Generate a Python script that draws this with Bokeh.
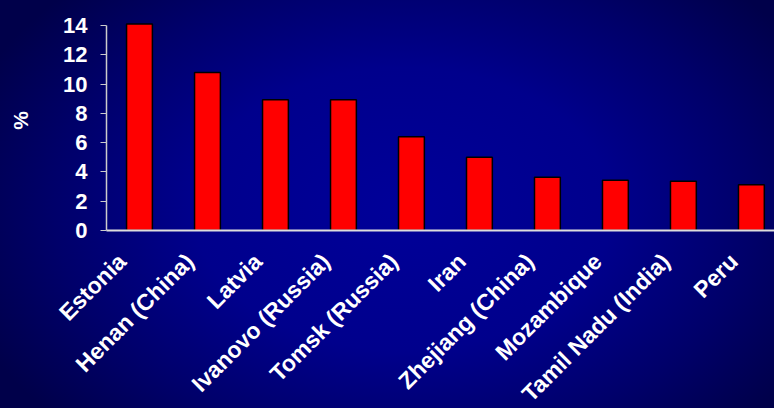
import math
from bokeh.plotting import figure
from bokeh.models import Range1d, FixedTicker, CustomJSTickFormatter, GlobalInlineStyleSheet
from bokeh.embed import file_html
from bokeh.resources import INLINE

sites = ["Estonia", "Henan (China)", "Latvia", "Ivanovo (Russia)", "Tomsk (Russia)",
         "Iran", "Zhejiang (China)", "Mozambique", "Tamil Nadu (India)", "Peru"]
values = [14.1, 10.8, 8.93, 8.93, 6.4, 5.0, 3.64, 3.44, 3.37, 3.12]
y_ticks = [0, 2, 4, 6, 8, 10, 12, 14]

xs = list(range(len(sites)))
LABEL_SHIFT = 0.26  # rotated labels end a little left of their bar

p = figure(frame_width=668, frame_height=220, output_backend="svg", toolbar_location=None,
           x_range=Range1d(-0.485, 9.34), y_range=Range1d(0, 15.03),
           min_border_left=106, min_border_right=0, min_border_top=10,
           min_border_bottom=150)
p.styles = {"background": "radial-gradient(ellipse 60% 75% at 52% 50%, #000099 0%, #00008c 45%, #00006a 75%, #00004a 100%)"}
p.stylesheets = [GlobalInlineStyleSheet(css="html, body { margin: 0; padding: 0; overflow: hidden; background: #000050; }")]
p.background_fill_alpha = 0
p.border_fill_alpha = 0
p.outline_line_color = None
p.grid.visible = False

p.vbar(x=xs, top=values, width=0.38, bottom=0, fill_color="#ff0000",
       line_color="#000000", line_width=1.5)

FONT = "Liberation Sans"
xa = p.xaxis[0]
xa.ticker = FixedTicker(ticks=[x - LABEL_SHIFT for x in xs])
xa.formatter = CustomJSTickFormatter(args=dict(names=sites, shift=LABEL_SHIFT),
                                     code="return names[Math.round(tick + shift)];")
xa.major_label_orientation = math.pi / 4
xa.major_label_text_font = FONT
xa.major_label_text_font_style = "bold"
xa.major_label_text_font_size = "23px"
xa.major_label_text_color = "white"
xa.major_label_standoff = 21
xa.major_tick_line_color = None
xa.minor_tick_line_color = None
xa.axis_line_color = "#dddddd"
xa.axis_line_width = 2

ya = p.yaxis[0]
ya.ticker = FixedTicker(ticks=y_ticks)
ya.bounds = (0, 14)
ya.axis_label = "%"
ya.axis_label_text_font = FONT
ya.axis_label_text_font_style = "bold"
ya.axis_label_text_font_size = "21px"
ya.axis_label_text_color = "white"
ya.axis_label_standoff = 28
ya.major_label_text_font = FONT
ya.major_label_text_font_style = "bold"
ya.major_label_text_font_size = "22px"
ya.major_label_text_color = "white"
ya.major_label_standoff = 13
ya.major_tick_in = 0
ya.major_tick_out = 6
ya.major_tick_line_color = "#cccccc"
ya.minor_tick_line_color = None
ya.axis_line_color = "#cccccc"
ya.axis_line_width = 1.5

open("out.html", "w").write(file_html(p, INLINE))
